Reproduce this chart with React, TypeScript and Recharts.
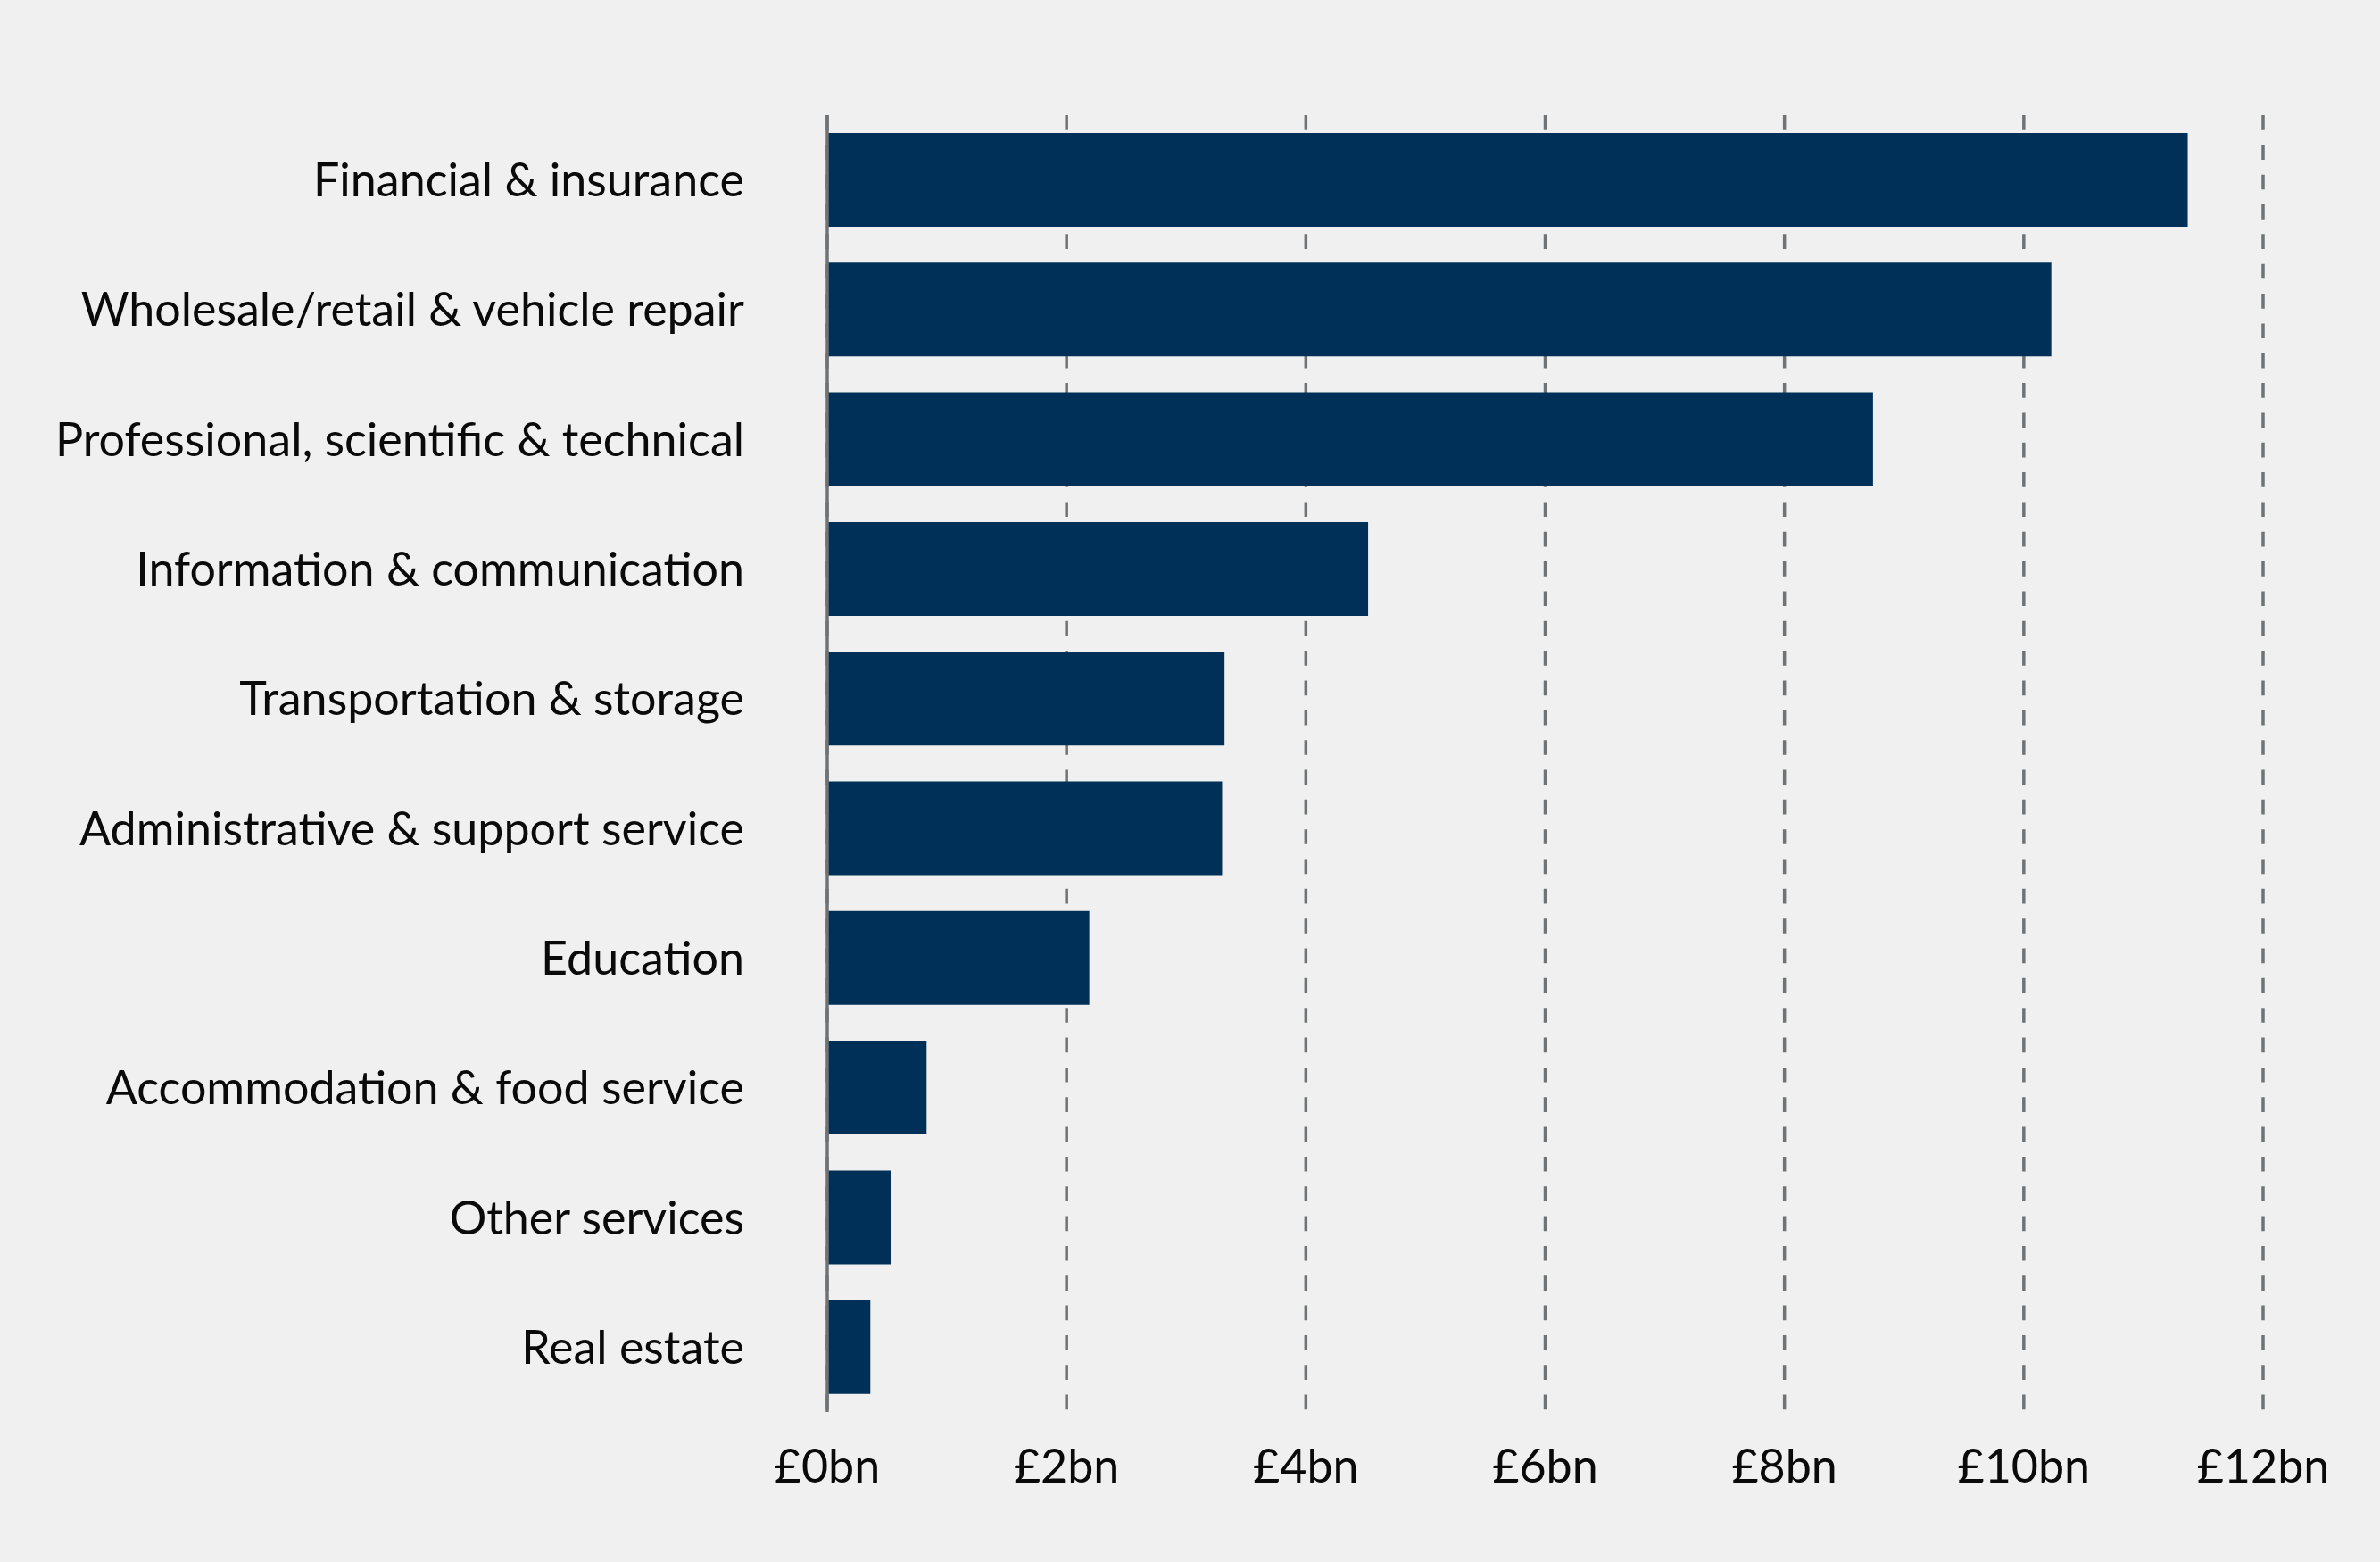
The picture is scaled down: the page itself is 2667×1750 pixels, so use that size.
import React from 'react';
import { BarChart, Bar, XAxis, YAxis, CartesianGrid } from 'recharts';

const categories = [
  'Financial & insurance',
  'Wholesale/retail & vehicle repair',
  'Professional, scientific & technical',
  'Information & communication',
  'Transportation & storage',
  'Administrative & support service',
  'Education',
  'Accommodation & food service',
  'Other services',
  'Real estate',
];
const values = [11.37, 10.23, 8.74, 4.52, 3.32, 3.3, 2.19, 0.83, 0.53, 0.36];
const xTicks = [0, 2, 4, 6, 8, 10, 12];

const data = categories.map((name, i) => ({ name, value: values[i] }));

const FONT = 'Lato, "Noto Sans", sans-serif';

export default function App() {
  return (
    <div style={{ position: 'absolute', left: 0, top: 0, width: 2667, height: 1750, background: '#eff0ef' }}>
      <BarChart
        width={2667}
        height={1750}
        data={data}
        layout="vertical"
        margin={{ top: 129, right: 131, bottom: 0, left: 0 }}
      >
        <CartesianGrid horizontal={false} stroke="#707376" strokeWidth={3.5} strokeDasharray="16.67 16.67" />
        <XAxis
          type="number"
          domain={[0, 12]}
          ticks={xTicks}
          tickFormatter={(v) => `£${v}bn`}
          axisLine={false}
          tickLine={false}
          tickSize={0}
          tickMargin={42}
          tick={{ fill: '#0a0a0a', fontSize: 52, fontFamily: FONT }}
          height={168}
        />
        <YAxis
          type="category"
          dataKey="name"
          width={927}
          axisLine={{ stroke: '#707376', strokeWidth: 3.5 }}
          tickLine={false}
          tickSize={0}
          tickMargin={93}
          tick={{ fill: '#0a0a0a', fontSize: 52, fontFamily: FONT }}
          interval={0}
        />
        <Bar dataKey="value" fill="#003057" barSize={105} isAnimationActive={false} />
      </BarChart>
    </div>
  );
}
